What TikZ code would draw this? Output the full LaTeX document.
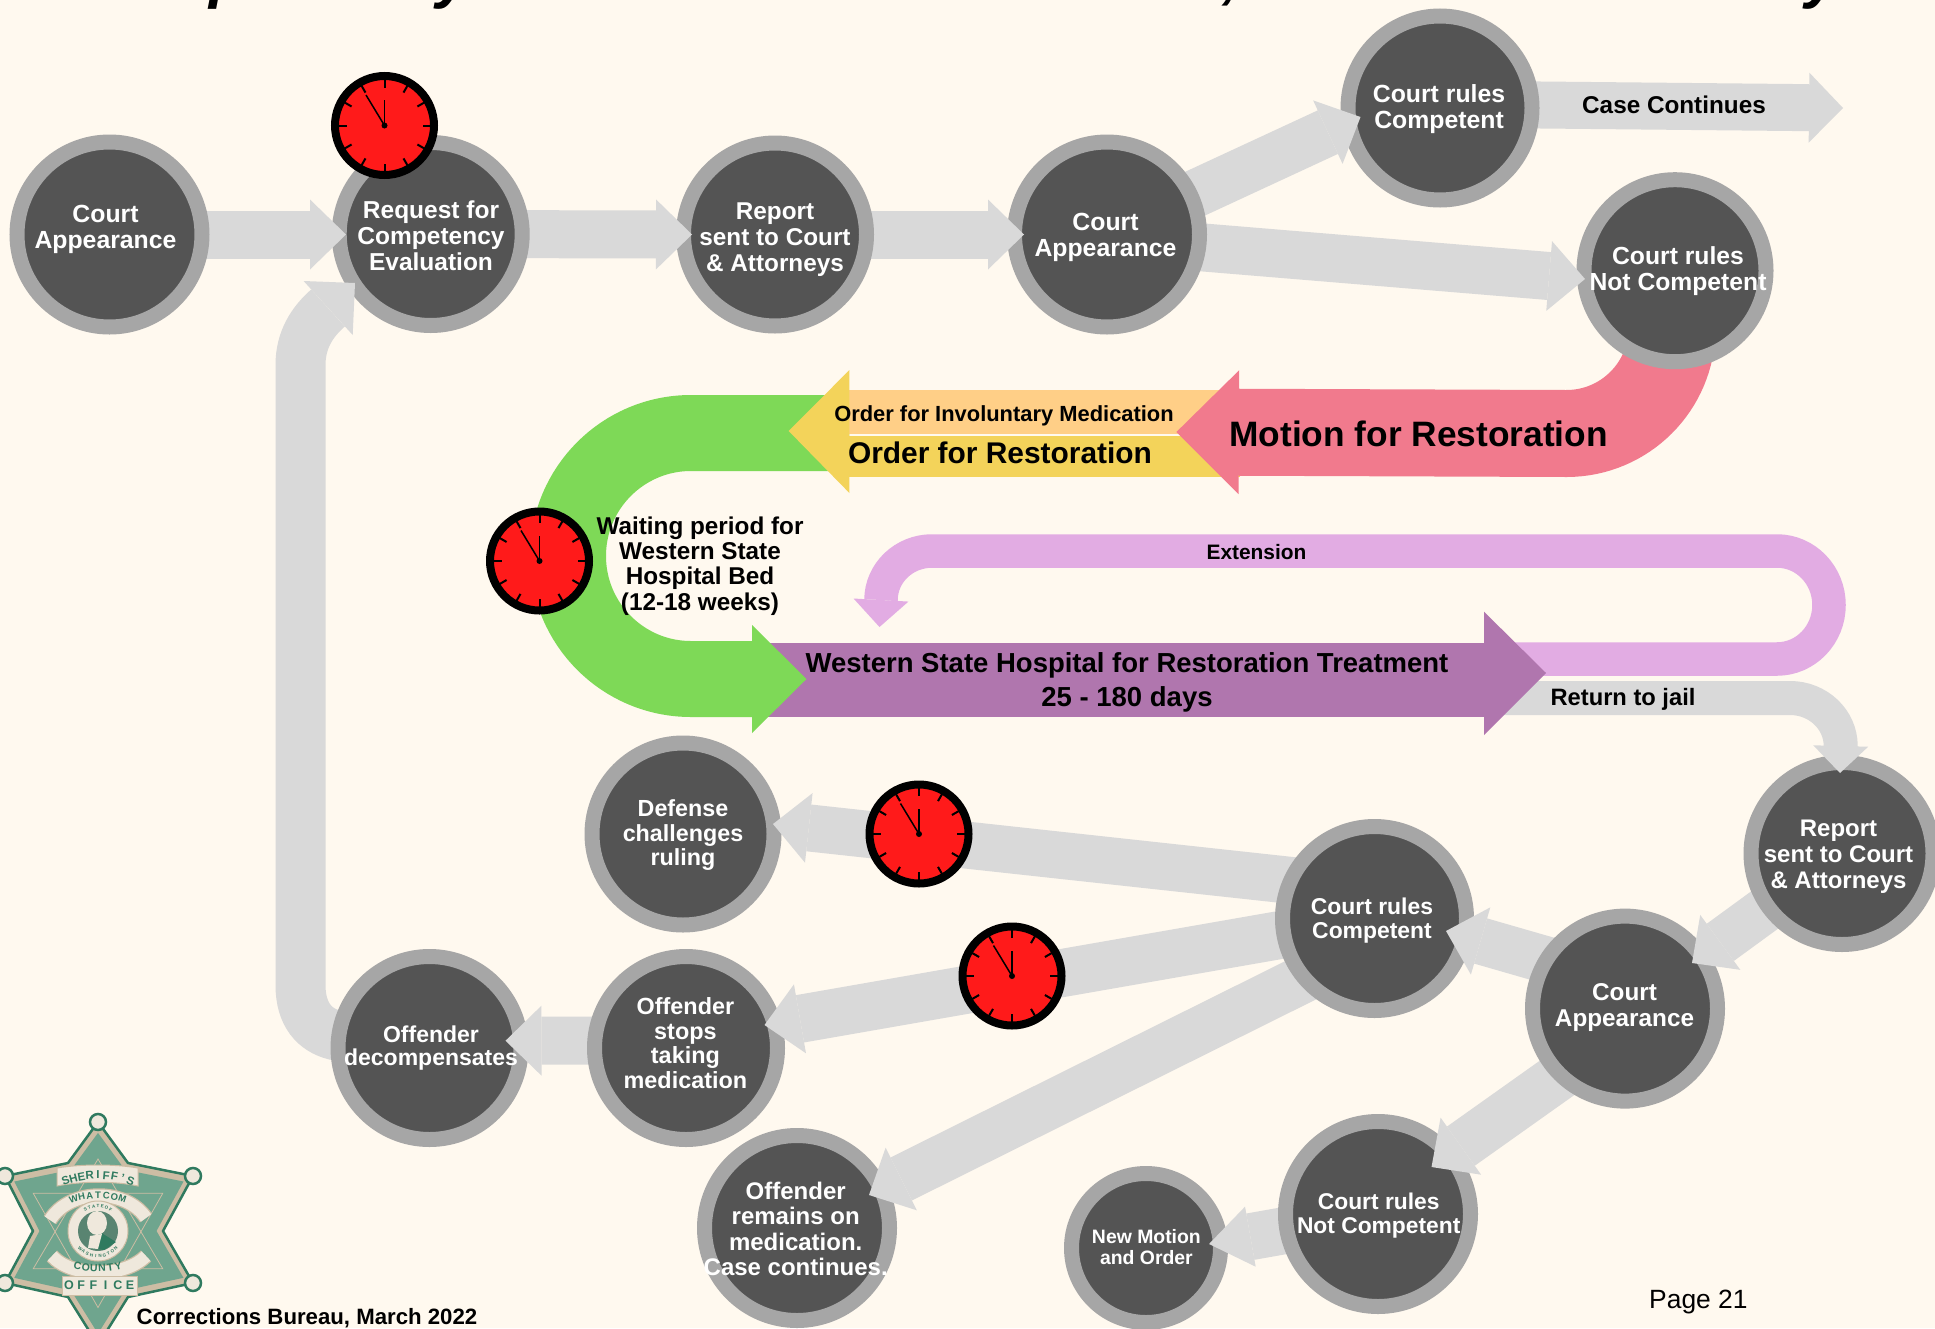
\documentclass[tikz,border=0pt]{standalone}
\usepackage{fontspec}
\setmainfont{Liberation Sans}
\usetikzlibrary{arrows.meta,calc}
\definecolor{bgcream}{HTML}{FFF9EF}
\definecolor{ringgrey}{HTML}{A6A6A6}
\definecolor{discdark}{HTML}{545454}
\definecolor{arrowgrey}{HTML}{D9D9D9}
\definecolor{clockred}{HTML}{FF1A1A}
\definecolor{bandgreen}{HTML}{7ED957}
\definecolor{bandpink}{HTML}{F17A8D}
\definecolor{bandorange}{HTML}{FFCF87}
\definecolor{bandyellow}{HTML}{F3D35A}
\definecolor{bandpurple}{HTML}{B076AE}
\definecolor{bandlav}{HTML}{E2ACE3}
\definecolor{stardark}{HTML}{2F7A5F}
\definecolor{starfill}{HTML}{6FA58E}
\definecolor{startan}{HTML}{CDBDA4}
\definecolor{starpale}{HTML}{EFE8DC}
\pgfdeclarelayer{z0}\pgfdeclarelayer{z1}\pgfdeclarelayer{z2}\pgfdeclarelayer{z3}
\pgfdeclarelayer{z4}\pgfdeclarelayer{z5}\pgfdeclarelayer{z6}\pgfdeclarelayer{z7}
\pgfdeclarelayer{z8}\pgfdeclarelayer{z9}\pgfdeclarelayer{z10}\pgfdeclarelayer{z11}
\pgfdeclarelayer{z12}\pgfdeclarelayer{z13}\pgfdeclarelayer{z14}\pgfdeclarelayer{z15}
\pgfdeclarelayer{z16}\pgfdeclarelayer{z17}\pgfdeclarelayer{z18}\pgfdeclarelayer{z19}
\pgfdeclarelayer{z20}\pgfdeclarelayer{z21}\pgfdeclarelayer{z22}\pgfdeclarelayer{z23}
\pgfsetlayers{z0,z1,z2,z3,z4,z5,z6,z7,z8,z9,z10,z11,z12,z13,z14,z15,z16,z17,z18,z19,z20,z21,z22,z23,main}
\tikzset{
 discnode/.style={circle,inner sep=0pt,outer sep=0pt,fill=discdark,draw=ringgrey,line width=15pt},
 disctext/.style={text=white,align=center,inner sep=0pt},
 blacktext/.style={text=black,align=center,inner sep=0pt},
 fatg/.style={draw=arrowgrey,line width=48pt,-{Triangle[length=36pt,width=70pt,line width=0pt]}},
 band/.style n args={4}{draw=#1,line width=#2pt,-{Triangle[length=#3pt,width=#4pt,line width=0pt]}},
 clockface/.style={circle,inner sep=0pt,outer sep=0pt,fill=clockred,draw=black,line width=8pt,minimum size=99pt},
 starletter/.style={text=stardark,inner sep=0pt,font=\bfseries\fontsize{#1}{#1}\selectfont},
}
\newcommand{\onz}[2]{\begin{pgfonlayer}{z#1}#2\end{pgfonlayer}}
% layer, name, x, y, outer radius
\newcommand{\ringdisc}[5]{\onz{#1}{\node[discnode,minimum size={(2*#5-15)*1pt}] (#2) at (#3,#4) {};}}
% name, x, y, size, skip, text
\newcommand{\disclabel}[6]{\node[disctext,font=\bfseries\fontsize{#4}{#5}\selectfont] (#1) at (#2,#3) {#6};}
\newcommand{\blacklabel}[6]{\node[blacktext,font=\bfseries\fontsize{#4}{#5}\selectfont] (#1) at (#2,#3) {#6};}
\newcommand{\stopclock}[3]{%
 \node[clockface] (#1) at (#2,#3) {};
 \foreach \a in {0,30,...,330} \draw[line width=2pt] ($(#1)+(\a:46)$) -- ($(#1)+(\a:38)$);
 \draw[line width=1.5pt] (#1.center) -- ++(0,-25.5);
 \draw[line width=1.5pt] (#1.center) -- ++(-18.5,-30.5);
 \fill (#1.center) circle[radius=3];}
\begin{document}
\begin{tikzpicture}[x=1pt,y=1pt,yscale=-1]
\useasboundingbox (0,0) rectangle (1935,1328);
\onz{0}{\fill[bgcream] (0,0) rectangle (1935,1328);}

% ---- discs
\ringdisc{23}{ca1}{109.5}{234.5}{100}
\ringdisc{21}{req}{430.7}{234}{99}
\ringdisc{19}{rep1}{775}{234.5}{99}
\ringdisc{17}{ca2}{1107}{234.5}{100}
\ringdisc{15}{crc1}{1440}{108}{99.5}
\ringdisc{15}{crn1}{1675}{270.7}{98.5}
\ringdisc{1}{defense}{683}{834}{98.5}
\ringdisc{3}{stops}{686}{1048}{99}
\ringdisc{1}{decomp}{429.5}{1048}{99}
\ringdisc{1}{remains}{797}{1228}{100}
\ringdisc{5}{crc2}{1374.5}{918.5}{99.5}
\ringdisc{7}{ca3}{1625}{1008.6}{100}
\ringdisc{9}{rep2}{1842}{853.5}{98.5}
\ringdisc{5}{crn2}{1378}{1214}{100}
\ringdisc{1}{newmotion}{1146}{1248}{82}

% ---- tips of the connectors
\coordinate (tip-req) at (346,234.5);
\coordinate (tip-rep1) at (692,234.5);
\coordinate (tip-ca2) at (1024,234.5);
\coordinate (tip-crc1) at (1360.5,117);
\coordinate (tip-crn1) at (1585,279);
\coordinate (tip-case) at (1843,108);
\coordinate (tip-ca3) at (1692,963);
\coordinate (tip-crc2) at (1446,931);
\coordinate (tip-crn2) at (1431.5,1167);
\coordinate (tip-newmotion) at (1209,1244);
\coordinate (tip-defense) at (773,824);
\coordinate (tip-stops) at (764.5,1025);
\coordinate (tip-remains) at (869,1195);
\coordinate (tip-decomp) at (505.5,1040.7);
\coordinate (tip-rep2) at (1840,773);

% ---- straight grey connectors
\onz{22}{\draw[fatg] (ca1.center) -- (tip-req);}
\onz{20}{\draw[fatg] (req.center) -- (tip-rep1);}
\onz{18}{\draw[fatg] (rep1.center) -- (tip-ca2);}
\onz{16}{\draw[fatg] (ca2.center) -- (tip-crc1);}
\onz{16}{\draw[fatg] ($(ca2.center)+(0,5)$) -- (tip-crn1);}
\onz{14}{\draw[fatg,-{Triangle[length=34pt,width=70pt,line width=0pt]},line width=47pt] ($(crc1.center)+(0,-4)$) -- (tip-case);}
\onz{8}{\draw[fatg,line width=46pt,-{Triangle[length=35pt,width=68pt,line width=0pt]}] (rep2.center) -- (tip-ca3);}
\onz{6}{\draw[fatg,line width=47pt] ($(ca3.center)+(0,-26)$) -- (tip-crc2);}
\onz{6}{\draw[fatg] ($(ca3.center)+(0,21)$) -- (tip-crn2);}
\onz{2}{\draw[fatg,line width=47pt,-{Triangle[length=42pt,width=61pt,line width=0pt]}] (crn2.center) -- (tip-newmotion);}
\onz{2}{\draw[fatg,line width=47pt] ($(crc2.center)+(0,-29)$) -- (tip-defense);}
\onz{4}{\draw[fatg,line width=48pt] (crc2.center) -- (tip-stops);}
\onz{2}{\draw[fatg,line width=48pt] ($(crc2.center)+(0,25)$) -- (tip-remains);}
\onz{2}{\draw[fatg] ($(stops.center)+(0,-7.5)$) -- (tip-decomp);}

% ---- decompensates back to request: shaft under the discs, head over the ring
\coordinate (reqhead) at (328,308);
\onz{0}{\draw[draw=arrowgrey,line width=50pt] (decomp.center) -- (334.5,1035) .. controls (315,1030) and (300.5,1015) .. (300.5,985) -- (300.5,365) .. controls (300.5,340) and (312,322) .. (reqhead);}
\onz{22}{\fill[arrowgrey] (303.6,281) -- (355,283) -- (352.7,335) -- cycle;}

% ---- bands
\onz{11}{
 \node[fill=bandpurple,inner sep=0pt,outer sep=0pt,minimum width=724pt,minimum height=74pt] (wsh) at (1122,680) {};
 \fill[bandpurple] (1484,611.7) -- (1546,673) -- (1484,735) -- cycle;
}
\coordinate (t-ext) at (879.5,627);
\onz{10}{\draw[band={bandlav}{33.5}{27}{55}] ($(wsh.east)+(0,-21)$) -- (1777,659) arc[start angle=90,end angle=-90,x radius=52,y radius=54] -- (932,551) arc[start angle=-90,end angle=-180,x radius=51,y radius=49] -- (t-ext);}
\onz{10}{\draw[band={arrowgrey}{34}{27}{55}] ($(wsh.east)+(0,18)$) -- (1790,698) arc[start angle=-90,end angle=0,x radius=50.7,y radius=48] -- (tip-rep2);}
\onz{13}{
 \node[fill=bandorange,inner sep=0pt,outer sep=0pt,minimum width=391pt,minimum height=44pt] (orderinv) at (1044.5,412) {};
 \node[fill=bandyellow,inner sep=0pt,outer sep=0pt,minimum width=391pt,minimum height=41pt] (orderres) at (1044.5,456.5) {};
 \fill[bandyellow] (849.4,370) -- (788.7,431) -- (849.4,493) -- cycle;
}
\coordinate (t-wsh) at (806.5,679);
\onz{12}{\draw[band={bandgreen}{76}{54.5}{108}] (orderres.west |- 0,433) -- (691,433) arc[start angle=-90,end angle=-270,radius=123] -- (t-wsh);}
\coordinate (t-order) at (1176.4,432);
\onz{14}{\draw[band={bandpink}{87}{62.5}{124}] (crn1.center) -- (1672,328) arc[start angle=0,end angle=90,radius=105.5] -- (t-order);}

% ---- title remnants cut by the top edge
\begin{scope}
\clip (0,0) rectangle (1935,1328);
\foreach \n/\x/\c in {ta/209/p,tb/436/y,tc/1222/{,},td/1805/y}
  \node[anchor=base west,inner sep=0pt,text=black,font=\bfseries\itshape\fontsize{62}{62}\selectfont] (\n) at (\x,-3.5) {\c};
\end{scope}

% ---- disc texts
\disclabel{ca1t}{105.5}{229}{24.8}{26}{Court\\Appearance}
\disclabel{reqt}{431}{236}{24.5}{26}{Request for\\Competency\\Evaluation}
\disclabel{rep1t}{775}{239.5}{24.3}{26}{Report\\sent to Court\\\& Attorneys}
\disclabel{ca2t}{1105.5}{237.5}{24.8}{26}{Court\\Appearance}
\disclabel{crc1t}{1439}{109.5}{24.8}{26}{Court rules\\Competent}
\disclabel{crn1t}{1678}{271.5}{24.7}{26}{Court rules\\Not Competent}
\disclabel{defenset}{683}{835.5}{23.3}{24.5}{Defense\\challenges\\ruling}
\disclabel{stopst}{685.4}{1043}{23.4}{24.7}{Offender\\stops\\taking\\medication}
\disclabel{decompt}{431}{1048.5}{23}{23}{Offender\\decompensates}
\disclabel{remainst}{795.7}{1229}{24}{25.3}{Offender\\remains on\\medication.\\Case continues.}
\disclabel{crc2t}{1372}{921}{22.9}{24}{Court rules\\Competent}
\disclabel{ca3t}{1624.5}{1007.5}{24.3}{26.5}{Court\\Appearance}
\disclabel{rep2t}{1838.5}{857}{24}{26}{Report\\sent to Court\\\& Attorneys}
\disclabel{crn2t}{1378.7}{1215.5}{22.8}{24.6}{Court rules\\Not Competent}
\disclabel{newmotiont}{1146.4}{1247}{19.4}{21}{New Motion\\and Order}

% ---- band texts
\blacklabel{casetxt}{1674}{105}{24.3}{26}{Case Continues}
\blacklabel{motiontxt}{1418.5}{434}{35.3}{36}{Motion for Restoration}
\blacklabel{invtxt}{1004}{415.5}{21.9}{23}{Order for Involuntary Medication}
\blacklabel{restxt}{1000}{452.5}{29.9}{31}{Order for Restoration}
\blacklabel{wshtxt}{1127}{682.5}{27.5}{34}{Western State Hospital for Restoration Treatment\\25 - 180 days}
\blacklabel{waittxt}{700}{566}{24.3}{25.4}{Waiting period for\\Western State\\Hospital Bed\\(12-18 weeks)}
\blacklabel{exttxt}{1256.5}{552}{20.9}{22}{Extension}
\blacklabel{rettxt}{1623}{699.5}{23.7}{25}{Return to jail}
\node[anchor=base west,inner sep=0pt,text=black,font=\fontsize{26.4}{27}\selectfont] (pagetxt) at (1649,1308) {Page 21};

% ---- clocks
\stopclock{clocka}{384.5}{125.5}
\stopclock{clockb}{539.5}{561}
\stopclock{clockc}{919}{834}
\stopclock{clockd}{1012}{976}

% ---- badge
\coordinate (bc) at (98,1231);
\fill[startan,draw=stardark,line width=2.5pt,line join=round] (98,1122) -- (128,1163) -- (193,1176) -- (163,1231) -- (193,1283) -- (128,1297) -- (98,1345) -- (68,1297) -- (5,1283) -- (33,1231) -- (5,1176) -- (68,1163) -- cycle;
\begin{scope}[shift={(bc)},scale=0.9]
 \fill[starfill] (0,-109) -- (30,-68) -- (95,-55) -- (65,0) -- (95,52) -- (30,66) -- (0,114) -- (-30,66) -- (-93,52) -- (-65,0) -- (-93,-55) -- (-30,-68) -- cycle;
 \draw[startan,line width=0.8pt] (0,-80) -- (72,42) -- (-72,42) -- cycle;
 \draw[startan,line width=0.8pt] (0,85) -- (72,-42) -- (-72,-42) -- cycle;
\end{scope}
\foreach \bx/\by in {98/1122,193/1176,193/1283,5/1176,5/1283}
  \fill[starpale,draw=stardark,line width=2.5pt] (\bx,\by) circle[radius=8];
% plaques and ribbons
\fill[starpale,draw=startan,line width=1pt] (57,1168) .. controls (80,1164) and (116,1164) .. (138,1168) -- (138,1186) .. controls (116,1181) and (80,1181) .. (57,1186) -- cycle;
\draw[draw=startan,line width=15pt] (50,1220) .. controls (70,1188) and (126,1188) .. (146,1218);
\draw[draw=starpale,line width=12.5pt] (50,1220) .. controls (70,1188) and (126,1188) .. (146,1218);
\draw[draw=startan,line width=15pt] (52,1256) .. controls (72,1278) and (124,1278) .. (146,1256);
\draw[draw=starpale,line width=12.5pt] (52,1256) .. controls (72,1278) and (124,1278) .. (146,1256);
\fill[starpale,draw=startan,line width=1pt] (62,1276) -- (137,1276) -- (137,1295) -- (62,1295) -- cycle;
\fill[starpale,draw=startan,line width=1pt] (bc) circle[radius=30];
\fill[starfill!80!black] (bc) circle[radius=20];
\fill[stardark] (88,1248) -- (100,1232) -- (116,1242) -- (104,1250) -- cycle;
\fill[starpale] (97,1223) ellipse[x radius=10,y radius=12];
\fill[starpale] (90,1236) -- (102,1234) -- (98,1249) -- (88,1248) -- cycle;
% badge lettering
\foreach \c [count=\i from 0] in {S,H,E,R,I,F,F,',S}
 {\pgfmathsetmacro\ang{-110+5*\i}\pgfmathsetmacro\rot{-(\ang+90)}
  \node[starletter=11.5,rotate=\rot] (sl\i) at ($(98,1270)+(\ang:95)$) {\c};}
\foreach \c [count=\i from 0] in {W,H,A,T,C,O,M}
 {\pgfmathsetmacro\ang{-108+6*\i}\pgfmathsetmacro\rot{-(\ang+90)}
  \node[starletter=9.5,rotate=\rot] (wl\i) at ($(98,1274)+(\ang:79)$) {\c};}
\foreach \c [count=\i from 0] in {C,O,U,N,T,Y}
 {\pgfmathsetmacro\ang{103-5.2*\i}\pgfmathsetmacro\rot{-(\ang-90)}
  \node[starletter=10.5,rotate=\rot] (cl\i) at ($(98,1178)+(\ang:90)$) {\c};}
\foreach \c [count=\i from 0] in {O,F,F,I,C,E}
 {\node[starletter=12.5] (ol\i) at ({69+12.2*\i},1285.5) {\c};}
\foreach \c [count=\i from 0] in {S,T,A,T,E,O,F}
 {\pgfmathsetmacro\ang{-120+10*\i}\pgfmathsetmacro\rot{-(\ang+90)}
  \node[starletter=4.5,rotate=\rot] (stl\i) at ($(bc)+(\ang:25)$) {\c};}
\foreach \c [count=\i from 0] in {W,A,S,H,I,N,G,T,O,N}
 {\pgfmathsetmacro\ang{135-10*\i}\pgfmathsetmacro\rot{-(\ang-90)}
  \node[starletter=4.5,rotate=\rot] (wal\i) at ($(bc)+(\ang:25)$) {\c};}
\blacklabel{corr}{307}{1318}{22.2}{24}{Corrections Bureau, March 2022}
\end{tikzpicture}
\end{document}
